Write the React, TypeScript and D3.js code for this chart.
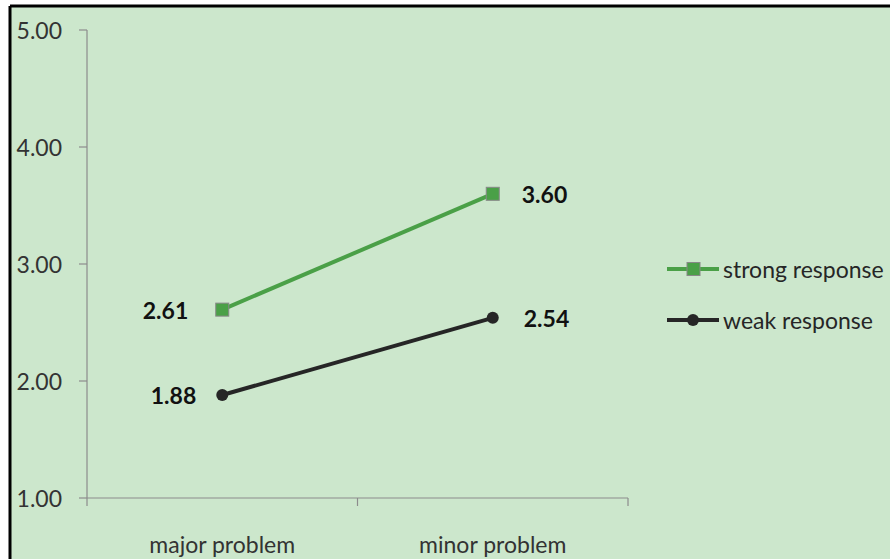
import React from "react";
import * as d3 from "d3";

const categories = ["major problem", "minor problem"];
const strongResponse = [2.61, 3.6];
const weakResponse = [1.88, 2.54];
const yTicks = [1, 2, 3, 4, 5];
const seriesNames = ["strong response", "weak response"];

const W = 890;
const H = 559;
const FONT = "Lato, 'Open Sans', sans-serif";

export default function App() {
  const x0 = 87;
  const x1 = 628;
  const y = d3.scaleLinear().domain([1, 5]).range([498, 30]);
  const x = d3.scaleBand<string>().domain(categories).range([x0, x1]).padding(0);
  const cx = (c: string) => (x(c) as number) + x.bandwidth() / 2;

  const line = d3
    .line<[string, number]>()
    .x((d) => cx(d[0]))
    .y((d) => y(d[1]));

  const strongPts: [string, number][] = categories.map((c, i) => [c, strongResponse[i]]);
  const weakPts: [string, number][] = categories.map((c, i) => [c, weakResponse[i]]);

  const green = "#4aa047";
  const dark = "#262626";
  const axisColor = "#8c8c8c";

  const bandTicks = [x0, ...categories.map((c) => (x(c) as number) + x.bandwidth())];

  return (
    <svg
      width={W}
      height={H}
      style={{ position: "absolute", left: 0, top: 0 }}
      fontFamily={FONT}
    >
      <rect x={0} y={0} width={W} height={H} fill="#ffffff" />
      <rect x={10} y={6} width={W} height={H} fill="#cce7cc" />
      {/* frame */}
      <line x1={10} y1={6} x2={W} y2={6} stroke="#000" strokeWidth={3} />
      <line x1={10} y1={6} x2={10} y2={H} stroke="#000" strokeWidth={3} />

      {/* y axis */}
      <line x1={x0} y1={y(5)} x2={x0} y2={y(1)} stroke={axisColor} strokeWidth={1.2} />
      {yTicks.map((t) => (
        <g key={t}>
          <line x1={x0 - 8} x2={x0} y1={y(t)} y2={y(t)} stroke={axisColor} strokeWidth={1.2} />
          <text
            x={62}
            y={y(t)}
            textAnchor="end"
            dominantBaseline="central"
            fontSize={23}
            fill="#333"
          >
            {t.toFixed(2)}
          </text>
        </g>
      ))}

      {/* x axis */}
      <line x1={x0} y1={y(1)} x2={x1} y2={y(1)} stroke={axisColor} strokeWidth={1.2} />
      {bandTicks.map((t, i) => (
        <line key={i} x1={t} x2={t} y1={y(1)} y2={y(1) + 8} stroke={axisColor} strokeWidth={1.2} />
      ))}
      {categories.map((c) => (
        <text
          key={c}
          x={cx(c)}
          y={544}
          textAnchor="middle"
          dominantBaseline="central"
          fontSize={23}
          fill="#333"
        >
          {c}
        </text>
      ))}

      {/* strong response */}
      <path d={line(strongPts) as string} fill="none" stroke={green} strokeWidth={4} />
      {strongPts.map((p, i) => (
        <rect
          key={i}
          x={cx(p[0]) - 6.5}
          y={y(p[1]) - 6.5}
          width={13}
          height={13}
          fill={green}
          stroke="#888"
          strokeWidth={1}
        />
      ))}

      {/* weak response */}
      <path d={line(weakPts) as string} fill="none" stroke={dark} strokeWidth={4} />
      {weakPts.map((p, i) => (
        <circle key={i} cx={cx(p[0])} cy={y(p[1])} r={6} fill={dark} />
      ))}

      {/* data labels */}
      {strongPts.map((p, i) => (
        <text
          key={"s" + i}
          x={i === 0 ? cx(p[0]) - 34 : cx(p[0]) + 29}
          y={y(p[1])}
          textAnchor={i === 0 ? "end" : "start"}
          dominantBaseline="central"
          fontSize={23}
          fontWeight="bold"
          fill="#111"
        >
          {p[1].toFixed(2)}
        </text>
      ))}
      {weakPts.map((p, i) => (
        <text
          key={"w" + i}
          x={i === 0 ? cx(p[0]) - 26 : cx(p[0]) + 31}
          y={y(p[1])}
          textAnchor={i === 0 ? "end" : "start"}
          dominantBaseline="central"
          fontSize={23}
          fontWeight="bold"
          fill="#111"
        >
          {p[1].toFixed(2)}
        </text>
      ))}

      {/* legend */}
      {seriesNames.map((name, i) => {
        const ly = i === 0 ? 269 : 320;
        const col = i === 0 ? green : dark;
        return (
          <g key={name}>
            <line x1={667} x2={719} y1={ly} y2={ly} stroke={col} strokeWidth={4} />
            {i === 0 ? (
              <rect x={687} y={ly - 6.5} width={13} height={13} fill={green} stroke="#888" strokeWidth={1} />
            ) : (
              <circle cx={693} cy={ly} r={6} fill={dark} />
            )}
            <text x={723} y={ly} dominantBaseline="central" fontSize={23} fill="#262626">
              {name}
            </text>
          </g>
        );
      })}
    </svg>
  );
}
